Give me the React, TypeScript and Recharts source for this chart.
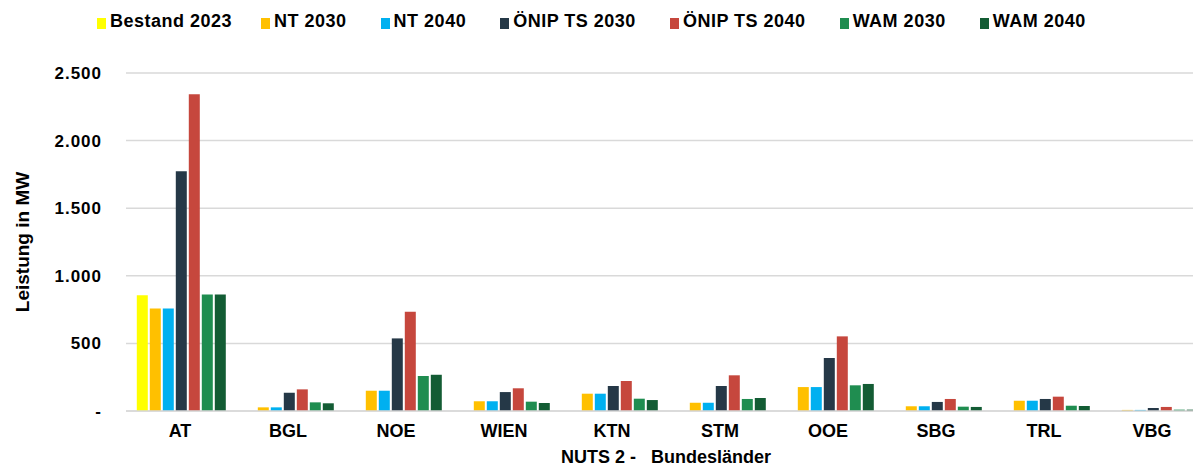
import { Bar, BarChart, CartesianGrid, Legend, XAxis, YAxis } from "recharts";

const CATEGORIES = ["AT", "BGL", "NOE", "WIEN", "KTN", "STM", "OOE", "SBG", "TRL", "VBG"];

const BESTAND_2023 = [857, null, null, null, null, null, null, null, null, null];
const NT_2030 = [759, 27, 150, 72, 128, 61, 177, 35, 76, 8];
const NT_2040 = [759, 27, 150, 72, 128, 61, 177, 35, 76, 8];
const ONIP_TS_2030 = [1774, 135, 537, 140, 185, 185, 392, 67, 89, 22];
const ONIP_TS_2040 = [2343, 160, 734, 168, 222, 264, 552, 89, 106, 30];
const WAM_2030 = [862, 64, 259, 69, 91, 89, 190, 32, 39, 10];
const WAM_2040 = [862, 57, 268, 59, 81, 96, 200, 30, 37, 10];

const Y_TICKS = [0, 500, 1000, 1500, 2000, 2500];

const SERIES = [
  { key: "bestand2023", name: "Bestand 2023", values: BESTAND_2023, color: "#FFFF00" },
  { key: "nt2030", name: "NT 2030", values: NT_2030, color: "#FFC000" },
  { key: "nt2040", name: "NT 2040", values: NT_2040, color: "#00B0F0" },
  { key: "onip2030", name: "ÖNIP TS 2030", values: ONIP_TS_2030, color: "#253847" },
  { key: "onip2040", name: "ÖNIP TS 2040", values: ONIP_TS_2040, color: "#C6473D" },
  { key: "wam2030", name: "WAM 2030", values: WAM_2030, color: "#1F8D50" },
  { key: "wam2040", name: "WAM 2040", values: WAM_2040, color: "#135C34" },
];

const chartData = CATEGORIES.map((cat, i) => {
  const row: Record<string, string | number | null> = { cat };
  SERIES.forEach((s) => {
    row[s.key] = s.values[i];
  });
  return row;
});

const FONT = "'Liberation Sans', Arial, sans-serif";

function formatTick(v: number) {
  if (v === 0) return "-";
  return String(v).replace(/\B(?=(\d{3})+(?!\d))/g, ".");
}

// legend keeps the series order (recharts would sort it by name)
function LegendContent() {
  return (
    <div
      style={{
        height: 67,
        display: "flex",
        alignItems: "flex-start",
        paddingLeft: 97,
        paddingTop: 5,
        boxSizing: "border-box",
        fontFamily: FONT,
        fontWeight: 700,
        fontSize: 18,
        letterSpacing: 0.5,
        color: "#000",
      }}
    >
      {SERIES.map((s, i) => (
        <div
          key={s.key}
          style={{
            display: "flex",
            alignItems: "center",
            marginRight: i === 0 ? 29 : 34,
            whiteSpace: "nowrap",
          }}
        >
          <span
            style={{
              display: "inline-block",
              width: 9,
              height: 11,
              background: s.color,
              marginRight: 4,
              marginTop: 3,
            }}
          />
          <span>{s.name}</span>
        </div>
      ))}
    </div>
  );
}

function XTitle({ viewBox }: any) {
  const { x, y, width } = viewBox;
  return (
    <text
      x={x + width / 2}
      y={y + 52}
      textAnchor="middle"
      fontFamily={FONT}
      fontWeight={700}
      fontSize={18}
      fill="#000"
      style={{ whiteSpace: "pre" }}
    >
      NUTS 2 -   Bundesländer
    </text>
  );
}

function YTitle({ viewBox }: any) {
  const { y, height } = viewBox;
  const cx = 22;
  const cy = y + height / 2;
  return (
    <text
      x={cx}
      y={cy}
      transform={`rotate(-90, ${cx}, ${cy})`}
      textAnchor="middle"
      dominantBaseline="central"
      fontFamily={FONT}
      fontWeight={700}
      fontSize={19}
      fill="#000"
    >
      Leistung in MW
    </text>
  );
}

export default function App() {
  return (
    <div
      style={{
        position: "absolute",
        top: 0,
        left: 0,
        width: 1193,
        height: 468,
        overflow: "hidden",
        background: "#fff",
      }}
    >
      <BarChart
        width={1215}
        height={468}
        data={chartData}
        margin={{ top: 6, right: 9, left: 0, bottom: 0 }}
        barCategoryGap="10%"
        barGap={2}
      >
        <CartesianGrid vertical={false} stroke="#d9d9d9" strokeWidth={1.5} />
        <XAxis
          dataKey="cat"
          height={57}
          tickLine={false}
          tickSize={0}
          tickMargin={13}
          axisLine={{ stroke: "#d9d9d9", strokeWidth: 1.5 }}
          tick={{ fontFamily: FONT, fontWeight: 700, fontSize: 18, fill: "#000" }}
          interval={0}
          label={<XTitle />}
        />
        <YAxis
          width={126}
          domain={[0, 2500]}
          ticks={Y_TICKS}
          tickFormatter={formatTick}
          tickLine={false}
          tickSize={0}
          tickMargin={24}
          axisLine={false}
          tick={{ fontFamily: FONT, fontWeight: 700, fontSize: 17, fill: "#000", letterSpacing: 1 }}
          label={<YTitle />}
        />
        <Legend verticalAlign="top" align="left" content={<LegendContent />} />
        {SERIES.map((s) => (
          <Bar key={s.key} dataKey={s.key} name={s.name} fill={s.color} isAnimationActive={false} />
        ))}
      </BarChart>
    </div>
  );
}
